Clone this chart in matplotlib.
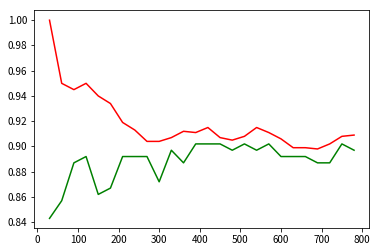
import matplotlib
matplotlib.use('Agg')
import matplotlib.pyplot as plt

plt.rcParams['font.family'] = ['Noto Sans CJK SC', 'DejaVu Sans']
plt.rcParams['axes.unicode_minus'] = False

# ── data ────────────────────────────────────────────────────────────────────
steps = [30, 60, 90, 120, 150, 180, 210, 240, 270, 300, 330, 360, 390,
         420, 450, 480, 510, 540, 570, 600, 630, 660, 690, 720, 750, 780]

red_vals = [1.000, 0.950, 0.945, 0.950, 0.940, 0.934, 0.919, 0.913, 0.904,
            0.904, 0.907, 0.912, 0.911, 0.915, 0.907, 0.905, 0.908, 0.915,
            0.911, 0.906, 0.899, 0.899, 0.898, 0.902, 0.908, 0.909]

green_vals = [0.843, 0.857, 0.887, 0.892, 0.862, 0.867, 0.892, 0.892, 0.892,
              0.872, 0.897, 0.887, 0.902, 0.902, 0.902, 0.897, 0.902, 0.897,
              0.902, 0.892, 0.892, 0.892, 0.887, 0.887, 0.902, 0.897]

# ── plot ────────────────────────────────────────────────────────────────────
fig = plt.figure(figsize=(379 / 72, 250 / 72), dpi=72)
ax = fig.add_axes([34.3 / 379, (250 - 228.3) / 250, 335 / 379, 218 / 250])

ax.plot(steps, red_vals, color='r', linewidth=1.5)
ax.plot(steps, green_vals, color='g', linewidth=1.5)

ax.set_xticks(range(0, 801, 100))
ax.set_yticks([0.84, 0.86, 0.88, 0.90, 0.92, 0.94, 0.96, 0.98, 1.00])
ax.set_yticklabels(['%.2f' % v for v in ax.get_yticks()])
ax.tick_params(labelsize=10)

fig.savefig('out.png', dpi=72)
